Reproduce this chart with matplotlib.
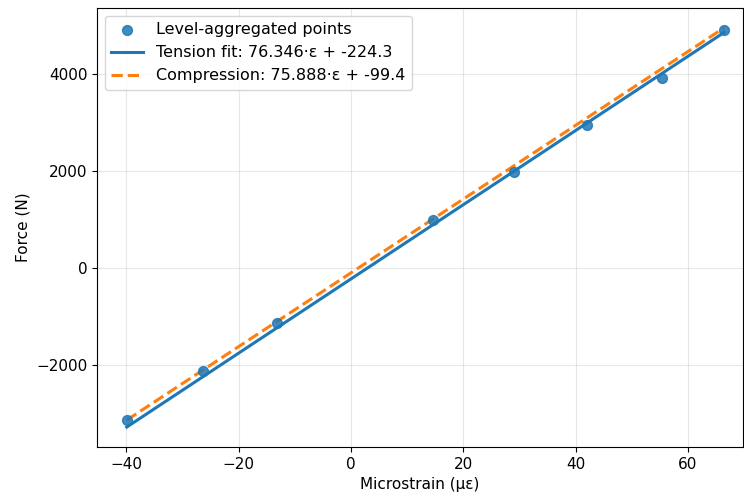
import numpy as np
import matplotlib
matplotlib.use("Agg")
import matplotlib.pyplot as plt

# level-aggregated calibration points (microstrain, force)
strain = np.array([-39.9, -26.3, -13.2, 14.6, 29.1, 42.1, 55.4, 66.4])
force = np.array([-3120, -2110, -1120, 985, 1970, 2935, 3920, 4900])

# fit coefficients (slope, intercept)
tension_fit = (76.346, -224.3)
compression_fit = (75.888, -99.4)

plt.rcParams["font.size"] = 11

fig, ax = plt.subplots(figsize=(7.44, 5.0), dpi=100)

ax.scatter(strain, force, s=50, color="#1f77b4", alpha=0.85,
           label="Level-aggregated points", zorder=3)

xs = np.linspace(strain.min(), strain.max(), 200)
m, b = tension_fit
ax.plot(xs, m * xs + b, color="#1f77b4", lw=2.2,
        label=f"Tension fit: {m:.3f}·ε + {b:.1f}")
m, b = compression_fit
ax.plot(xs, m * xs + b, color="#ff7f0e", lw=2.2, ls="--",
        label=f"Compression: {m:.3f}·ε + {b:.1f}")

ax.set_xlim(-45.2, 69.8)
ax.set_xlabel("Microstrain (με)")
ax.set_ylabel("Force (N)")
ax.grid(True, alpha=0.3)
ax.legend(loc="upper left", fontsize=11.5)

fig.subplots_adjust(left=97 / 744, right=743 / 744, top=1 - 8 / 500, bottom=1 - 447 / 500)
fig.savefig("out.png", dpi=100)
